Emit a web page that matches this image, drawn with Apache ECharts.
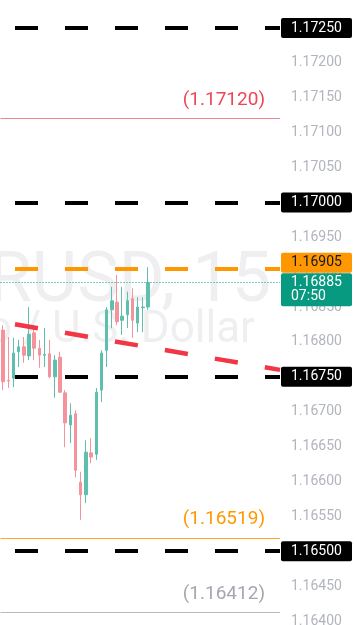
<!DOCTYPE html>
<html>
<head>
<meta charset="utf-8">
<script src="https://cdn.jsdelivr.net/npm/echarts@6/dist/echarts.min.js"></script>
<style>
  html, body { margin: 0; padding: 0; background: #fff; }
  #chart { width: 357px; height: 625px; }
</style>
</head>
<body>
<div id="chart"></div>
<script>
  // 15 min EURUSD bars: [open, close, low, high]
  var candles = [
    [1.16817, 1.16743, 1.16731, 1.16824],
    [1.16745, 1.16744, 1.16734, 1.16807],
    [1.16748, 1.16784, 1.16735, 1.16806],
    [1.16786, 1.16793, 1.16764, 1.16803],
    [1.16793, 1.16781, 1.16770, 1.16807],
    [1.16780, 1.16811, 1.16774, 1.16850],
    [1.16813, 1.16791, 1.16774, 1.16820],
    [1.16791, 1.16781, 1.16763, 1.16803],
    [1.16781, 1.16782, 1.16764, 1.16820],
    [1.16783, 1.16750, 1.16748, 1.16803],
    [1.16750, 1.16774, 1.16720, 1.16781],
    [1.16778, 1.16728, 1.16727, 1.16786],
    [1.16727, 1.16684, 1.16649, 1.16731],
    [1.16681, 1.16695, 1.16655, 1.16712],
    [1.16697, 1.16616, 1.16606, 1.16702],
    [1.16599, 1.16581, 1.16545, 1.16614],
    [1.16581, 1.16642, 1.16569, 1.16659],
    [1.16641, 1.16635, 1.16626, 1.16662],
    [1.16639, 1.16728, 1.16631, 1.16734],
    [1.16731, 1.16784, 1.16714, 1.16788],
    [1.16788, 1.16846, 1.16764, 1.16850],
    [1.16846, 1.16859, 1.16820, 1.16879],
    [1.16857, 1.16829, 1.16824, 1.16896],
    [1.16831, 1.16837, 1.16810, 1.16879],
    [1.16839, 1.16859, 1.16820, 1.16872],
    [1.16862, 1.16831, 1.16806, 1.16877],
    [1.16827, 1.16850, 1.16814, 1.16864],
    [1.16849, 1.16850, 1.16814, 1.16864],
    [1.16850, 1.16885, 1.16846, 1.16907]
  ];
  var slotCount = 54;   // visible bar slots incl. empty right side
  var categories = [];
  for (var i = 0; i < slotCount; i++) categories.push(String(i));

  var boxedLevels = [1.1725, 1.17, 1.1675, 1.165];
  var alertLevel = 1.16905;
  var lastPrice = 1.16885;
  var countdown = '07:50';
  var redLevel = 1.1712;
  var orangeLevel = 1.16519;
  var grayLevel = 1.16412;
  // trend line end points [bar index, price]
  var trendLine = [[-0.5, 1.16829], [53.5, 1.16760]];

  var font = 'Roboto';
  var UP = '#5fbfad', DOWN = '#f4939b';

  function isBoxed(v) {
    for (var k = 0; k < boxedLevels.length; k++) {
      if (Math.abs(boxedLevels[k] - v) < 1e-7) return true;
    }
    return false;
  }

  var dashed = function (color) {
    return { color: color, width: 4, type: [23, 27], dashOffset: 35.5, cap: 'butt' };
  };

  var markData = [];
  boxedLevels.forEach(function (v) {
    markData.push({ yAxis: v, lineStyle: dashed('#000'), label: { show: false } });
  });
  markData.push({
    yAxis: redLevel,
    lineStyle: { color: '#ec8790', width: 1, type: 'solid' },
    label: {
      show: true, position: 'insideEndTop', formatter: '(' + redLevel.toFixed(5) + ')',
      color: '#ef4655', fontSize: 19, fontFamily: font, padding: [0, 10, 4, 0]
    }
  });
  markData.push({
    yAxis: orangeLevel,
    lineStyle: { color: '#ffa726', width: 1, type: 'solid' },
    label: {
      show: true, position: 'insideEndTop', formatter: '(' + orangeLevel.toFixed(5) + ')',
      color: '#ff9800', fontSize: 19, fontFamily: font, padding: [0, 10, 4, 0]
    }
  });
  markData.push({
    yAxis: grayLevel,
    lineStyle: { color: '#b8bbc2', width: 1, type: 'solid' },
    label: {
      show: true, position: 'insideEndTop', formatter: '(' + grayLevel.toFixed(5) + ')',
      color: '#a4a7b0', fontSize: 19, fontFamily: font, padding: [0, 10, 4, 0]
    }
  });
  markData.push({
    yAxis: lastPrice,
    lineStyle: { color: '#089981', width: 1, type: [1, 2] },
    label: {
      show: true, position: 'end', distance: 1,
      formatter: lastPrice.toFixed(5) + '\n' + countdown,
      backgroundColor: '#089981', color: '#fff', fontSize: 14, fontFamily: font,
      lineHeight: 14, width: 53, padding: [3, 8, 2, 10], borderRadius: 2, offset: [0, 7]
    }
  });
  markData.push({
    yAxis: alertLevel,
    lineStyle: dashed('#ff9800'),
    label: {
      show: true, position: 'end', distance: 1,
      formatter: alertLevel.toFixed(5),
      backgroundColor: '#ff9800', color: '#131722', fontSize: 14, fontFamily: font,
      lineHeight: 14, width: 53, padding: [3, 8, 3, 10], borderRadius: 2, offset: [0, -6]
    }
  });

  var chart = echarts.init(document.getElementById('chart'));
  chart.setOption({
    animation: false,
    backgroundColor: '#fff',
    grid: { left: 0.5, right: 77, top: 28, bottom: 4, outerBoundsMode: 'none', containLabel: false },
    xAxis: [
      { type: 'category', data: categories, show: false },
      { type: 'value', min: -0.5, max: slotCount - 0.5, show: false }
    ],
    yAxis: {
      type: 'value', position: 'right', min: 1.164, max: 1.1725, interval: 0.0005,
      axisLine: { show: false }, axisTick: { show: false }, splitLine: { show: false },
      axisLabel: {
        margin: 1,
        formatter: function (v) {
          return (isBoxed(v) ? '{b|' : '{g|') + v.toFixed(5) + '}';
        },
        rich: {
          g: { color: '#b2b5be', fontSize: 14, fontFamily: font, lineHeight: 14, width: 53, padding: [3, 8, 3, 10] },
          b: { color: '#fff', backgroundColor: '#000', fontSize: 14, fontFamily: font, lineHeight: 14, width: 53, padding: [3, 8, 3, 10], borderRadius: 2 }
        }
      }
    },
    graphic: [
      {
        type: 'text', x: 271, y: 283, z: 0, silent: true,
        style: { text: 'EURUSD, 15', font: '70px Roboto', fill: '#efeff1', textAlign: 'right', textVerticalAlign: 'middle' }
      },
      {
        type: 'text', x: 255, y: 331, z: 0, silent: true,
        style: { text: 'Euro / U.S. Dollar', font: '44px Roboto', fill: '#efeff1', textAlign: 'right', textVerticalAlign: 'middle' }
      }
    ],
    series: [
      {
        type: 'candlestick',
        data: candles,
        barWidth: 3,
        itemStyle: { color: UP, color0: DOWN, borderColor: UP, borderColor0: DOWN, borderWidth: 1 }
      },
      {
        type: 'line',
        xAxisIndex: 1,
        data: trendLine,
        symbol: 'none',
        silent: true,
        lineStyle: { color: '#f23645', width: 4.5, type: [23.3, 27.4], dashOffset: 36, cap: 'butt' },
        markLine: { symbol: 'none', silent: true, animation: false, precision: 6, data: markData }
      }
    ]
  });
</script>
</body>
</html>
